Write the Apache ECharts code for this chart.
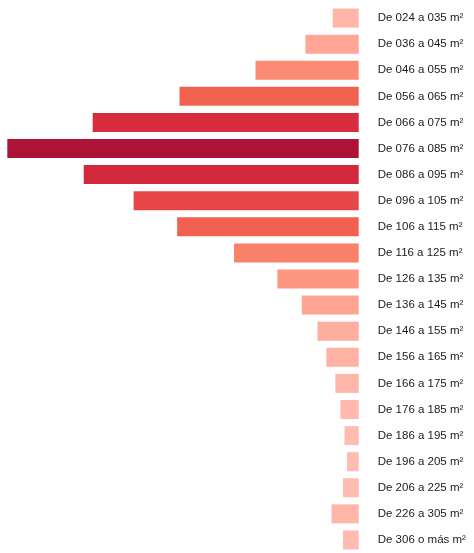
<!DOCTYPE html>
<html>
<head>
<meta charset="utf-8">
<script src="https://cdn.jsdelivr.net/npm/echarts@6/dist/echarts.min.js"></script>
<style>html,body{margin:0;padding:0;background:#fff}#c{width:474px;height:553px}</style>
</head>
<body>
<div id="c"></div>
<script>
const categories = [
  'De 024 a 035 m²','De 036 a 045 m²','De 046 a 055 m²','De 056 a 065 m²','De 066 a 075 m²',
  'De 076 a 085 m²','De 086 a 095 m²','De 096 a 105 m²','De 106 a 115 m²','De 116 a 125 m²',
  'De 126 a 135 m²','De 136 a 145 m²','De 146 a 155 m²','De 156 a 165 m²','De 166 a 175 m²',
  'De 176 a 185 m²','De 186 a 195 m²','De 196 a 205 m²','De 206 a 225 m²','De 226 a 305 m²',
  'De 306 o más m²'
];
const values = [1.22, 2.51, 4.86, 8.44, 12.53, 16.55, 12.95, 10.60, 8.55, 5.87,
  3.83, 2.68, 1.94, 1.52, 1.10, 0.86, 0.67, 0.55, 0.74, 1.28, 0.74];

const colorStops = [[0.5,[255,190,178]],[2.5,[255,166,150]],[4.9,[252,139,114]],[8.4,[242,98,81]],
  [10.6,[230,71,70]],[12.5,[215,44,62]],[16.5,[173,19,55]]];
function colorFor(v){
  if (v <= colorStops[0][0]) return 'rgb('+colorStops[0][1].join(',')+')';
  for (let i=1;i<colorStops.length;i++){
    if (v <= colorStops[i][0]){
      const a=colorStops[i-1], b=colorStops[i], t=(v-a[0])/(b[0]-a[0]);
      const c=a[1].map((x,k)=>Math.round(x+(b[1][k]-x)*t));
      return 'rgb('+c.join(',')+')';
    }
  }
  return 'rgb('+colorStops[colorStops.length-1][1].join(',')+')';
}

const chart = echarts.init(document.getElementById('c'), null, {renderer:'canvas'});
chart.setOption({
  animation:false,
  grid:{left:2, right:115.3, top:5, height:550},
  xAxis:{type:'value', inverse:true, min:0, max:16.8, show:false},
  yAxis:{type:'category', data:categories, inverse:true, position:'right',
    axisLine:{show:false}, axisTick:{show:false}, splitLine:{show:false},
    axisLabel:{margin:19, color:'#1a1a1a', fontFamily:'Liberation Sans', fontSize:11.5, align:'left'}},
  series:[{type:'bar', data:values, barWidth:19,
    itemStyle:{color:p=>colorFor(p.value)}}]
});
</script>
</body>
</html>
